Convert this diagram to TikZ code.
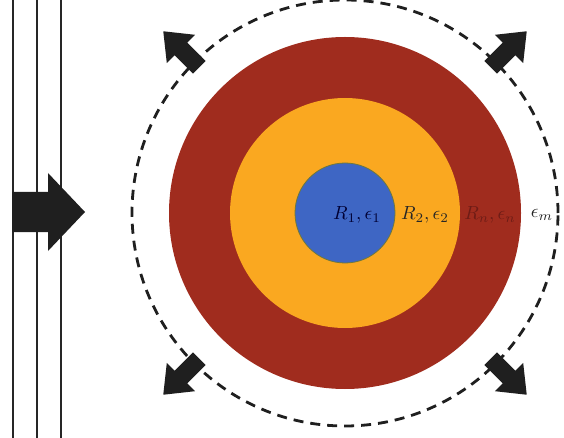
\documentclass[tikz,border=0pt]{standalone}
\usepackage{graphicx}
\usepackage{amsmath}
\begin{document}
\begin{tikzpicture}[x=1pt,y=-1pt,
  wire/.style={line width=2.6pt,draw=black!85},
  fatarrow/.style={fill=black!88,draw=none},
  lbl/.style={inner sep=0pt,anchor=center}]
\definecolor{cblue}{RGB}{62,102,196}
\definecolor{corange}{RGB}{250,168,32}
\definecolor{cred}{RGB}{160,44,30}
\definecolor{crtext}{RGB}{110,28,22}
\newcommand{\biglbl}[1]{\scalebox{1.9}{$#1$}}
\useasboundingbox (0,0) rectangle (564,438);
% plane-wave lines
\foreach \xx/\nm in {13/a,37/b,61/c}{
  \coordinate (t\nm) at (\xx,0);
  \coordinate (b\nm) at (\xx,438);
  \draw[wire] (t\nm) -- (b\nm);
}
% incident arrow
\fill[fatarrow] (12,192) -- (48,192) -- (48,173) -- (85,212) -- (48,251) -- (48,232) -- (12,232) -- cycle;
% sphere layers
\coordinate (O) at (345,213);
\node[circle,fill=cred,minimum size=352pt,inner sep=0pt] (red) at (O) {};
\node[circle,fill=corange,minimum size=230pt,inner sep=0pt] (orange) at (O) {};
\node[circle,fill=cblue,draw={rgb,255:red,110;green,120;blue,60},line width=0.8pt,minimum size=100pt,inner sep=0pt] (blue) at (O) {};
% dashed boundary
\node[circle,draw=black!88,line width=2.8pt,dash pattern=on 10pt off 7pt,minimum size=426pt,inner sep=0pt] (outer) at (O) {};
% outward arrows
\foreach \ang in {45,135,-45,-135}{
  \begin{scope}[shift={(O)},rotate=\ang]
    \fill[fatarrow] (206,-9) -- (232,-9) -- (232,-20) -- (257,0) -- (232,20) -- (232,9) -- (206,9) -- cycle;
  \end{scope}
}
% labels
\node[lbl,text=black!80!blue] (l1) at (357,215) {\biglbl{R_1,\epsilon_1}};
\node[lbl,text=black!85] (l2) at (425,215) {\biglbl{R_2,\epsilon_2}};
\node[lbl,text=crtext] (ln) at (490,215) {\biglbl{R_n,\epsilon_n}};
\node[lbl,text=black!85] (lm) at (542,215) {\biglbl{\epsilon_m}};
\end{tikzpicture}
\end{document}
